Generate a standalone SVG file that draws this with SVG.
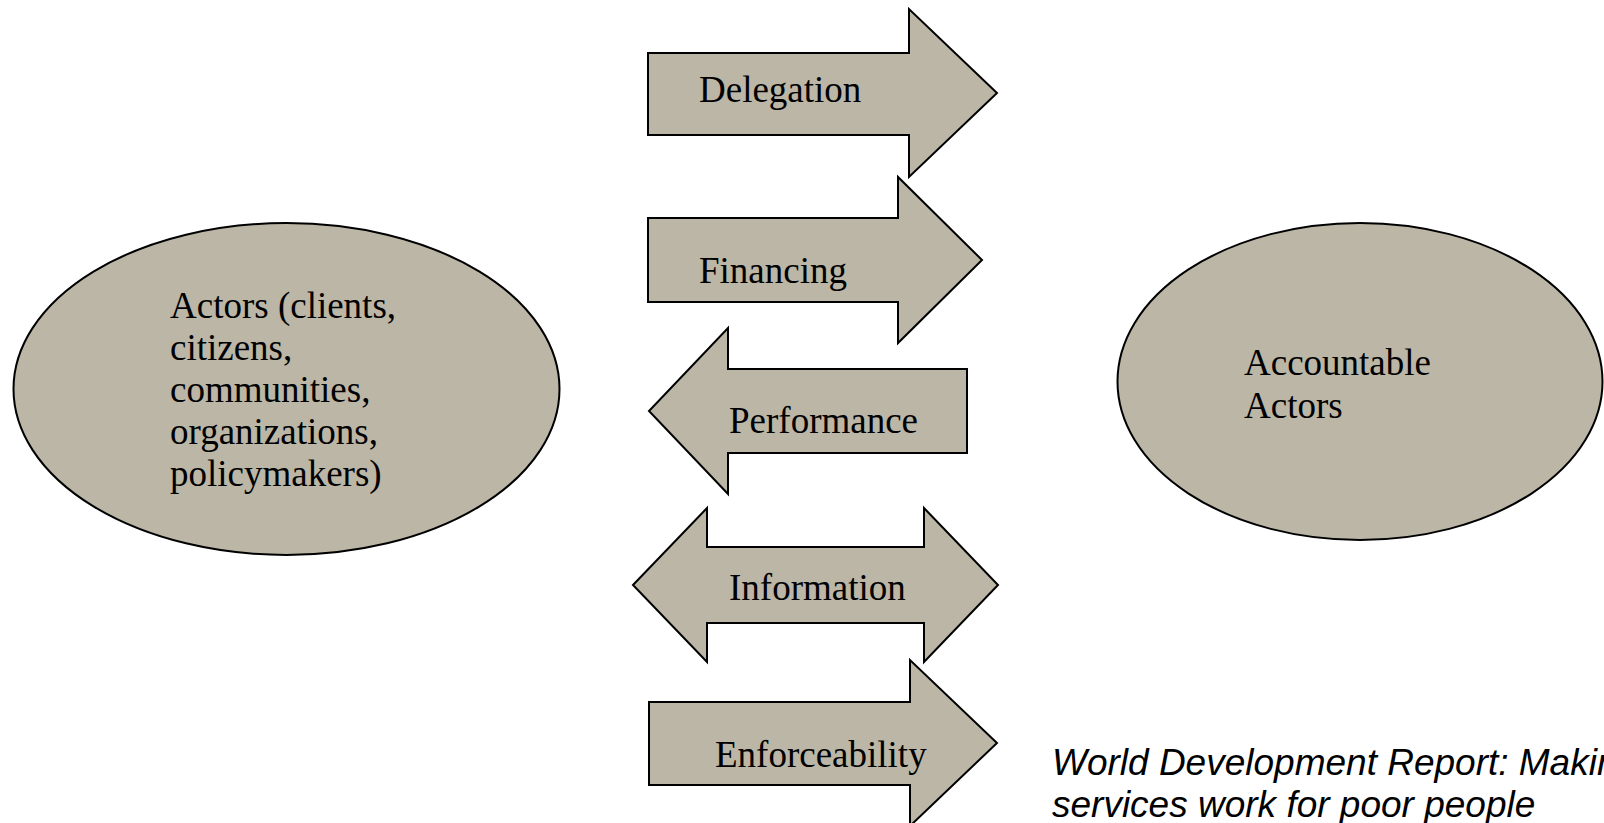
<svg xmlns="http://www.w3.org/2000/svg" width="1604" height="823" viewBox="0 0 1604 823">
<style>
.shape{fill:#bbb6a6;stroke:#000;stroke-width:2;stroke-linejoin:miter}
.lbl{font-family:"Liberation Serif","Times New Roman",serif;font-size:37px;fill:#000}
.note{font-family:"Liberation Sans",Arial,sans-serif;font-size:37px;font-style:italic;fill:#000}
</style>
<rect width="1604" height="823" fill="#fff"/>
<g id="node-actors">
<ellipse class="shape" cx="286.5" cy="389" rx="273" ry="166"/>
<text class="lbl"><tspan x="170" y="318">Actors (clients,</tspan><tspan x="170" y="360">citizens,</tspan><tspan x="170" y="402">communities,</tspan><tspan x="170" y="444">organizations,</tspan><tspan x="170" y="486">policymakers)</tspan></text>
</g>
<g id="node-accountable">
<ellipse class="shape" cx="1360" cy="381.5" rx="242.5" ry="158.5"/>
<text class="lbl"><tspan x="1244" y="375">Accountable</tspan><tspan x="1244" y="418">Actors</tspan></text>
</g>
<g id="connectors">
<g id="arrow-delegation">
<polygon class="shape" points="648,53 909,53 909,9 997,93 909,177 909,135 648,135"/>
<text class="lbl" x="699" y="102">Delegation</text>
</g>
<g id="arrow-financing">
<polygon class="shape" points="648,218 898,218 898,177 982,260 898,343 898,302 648,302"/>
<text class="lbl" x="699" y="283">Financing</text>
</g>
<g id="arrow-performance">
<polygon class="shape" points="967,369 728,369 728,328 649,411 728,494 728,453 967,453"/>
<text class="lbl" x="729" y="433">Performance</text>
</g>
<g id="arrow-information">
<polygon class="shape" points="633,585 707,508 707,547 924,547 924,508 998,585 924,662 924,623 707,623 707,662"/>
<text class="lbl" x="729" y="600">Information</text>
</g>
<g id="arrow-enforceability">
<polygon class="shape" points="649,702 910,702 910,660 997,743 910,826 910,785 649,785"/>
<text class="lbl" x="715" y="767">Enforceability</text>
</g>
</g>
<text class="note"><tspan x="1052" y="775">World Development Report: Making</tspan><tspan x="1052" y="817">services work for poor people</tspan></text>
</svg>
